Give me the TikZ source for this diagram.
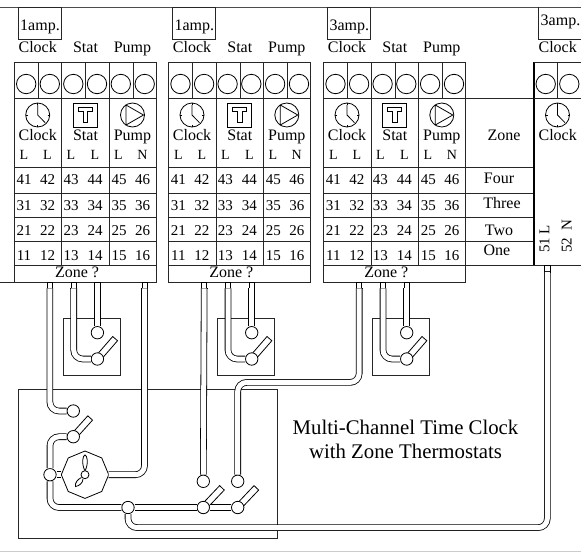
\documentclass[tikz,border=0pt]{standalone}
\usepackage{fontspec}
\setmainfont{Liberation Serif}
\usetikzlibrary{shapes.geometric}

\tikzset{
    panel/.style={line width=0.8pt, draw=black!85},
    lbl/.style={anchor=base, inner sep=0pt, font=\fontsize{16}{18}\selectfont},
    numlbl/.style={lbl, font=\fontsize{15}{18}\selectfont},
    smalllbl/.style={lbl, font=\fontsize{14}{18}\selectfont},
    screw/.style={circle, draw, line width=0.8pt, minimum size=19.4pt, inner sep=0pt},
    term/.style={circle, draw, fill=white, line width=0.8pt, minimum size=12.4pt, inner sep=0pt},
    blade/.style={rectangle, draw, fill=white, line width=0.8pt, anchor=west, minimum height=6.4pt, inner sep=0pt},
    stubbox/.style={rectangle, draw, fill=white, line width=0.8pt, minimum width=5.2pt, minimum height=6pt, inner sep=0pt},
    wire/.style={draw=black, line width=0.8pt, double=white, double distance=5pt, rounded corners=9pt},
    clockicon/.pic={
        \draw[line width=0.8pt] (0,0) circle (12pt);
        \foreach \ang in {0,90,180,270}
            \draw[line width=0.8pt] (\ang:10pt) -- (\ang:12pt);
        \draw[line width=0.8pt] (0,-10) -- (0,0) -- (7.5,7.7);
    },
    staticon/.pic={
        \draw[line width=0.8pt] (-12,-11.8) rectangle (12,12);
        \draw[line width=0.8pt] (-7,-7.7) -- (7,-7.7) -- (7,-3.3) -- (2.4,-3.3) -- (2.4,7.7)
            -- (-2.4,7.7) -- (-2.4,-3.3) -- (-7,-3.3) -- cycle;
    },
    pumpicon/.pic={
        \draw[line width=0.8pt] (0,0) circle (12pt);
        \draw[line width=0.8pt] (-6.5,-10) -- (11,0) -- (-6.5,10) -- cycle;
    },
}

% stub on the terminal strip, closed where the wire starts
\newcommand{\stubat}[2]{
    \node[stubbox] (#1) at (#2) {};
    \draw[line width=0.8pt] ([xshift=-3.4pt]#1.south) -- ([xshift=3.4pt]#1.south);
}

\begin{document}
\begin{tikzpicture}[x=1pt, y=-1pt]
    \useasboundingbox (0,0) rectangle (581,552);

    % Top and bottom edges
    \draw[line width=0.9pt, black!70] (0,7) -- (581,7);
    \draw[line width=0.9pt, black!20] (0,551.5) -- (581,551.5);
    \draw[panel] (0,282) -- (14,282);

    % Clock, Stat, Pump blocks
    \foreach \bx/\amp [count=\bn] in {14/1amp., 168.3/1amp., 323.3/3amp.} {
        \begin{scope}[shift={(\bx,0)}]
            % Fuse box
            \draw[panel] (4.5,7) rectangle (47.5,39.5);
            \node[lbl] (fuse\bn) at (26,30) {\amp};
            \node[lbl] (topclock\bn) at (23.7,52.3) {Clock};
            \node[lbl] (topstat\bn) at (71.5,52.3) {Stat};
            \node[lbl] (toppump\bn) at (118.5,52.3) {Pump};

            % Frame and rows
            \draw[panel] (0,62) rectangle (142.3,282);
            \foreach \ly in {98,167.5,193,217.5,241.3,265}
                \draw[panel] (0,\ly) -- (142.3,\ly);
            \foreach \lx in {47.7,95.3}
                \draw[panel] (\lx,62) -- (\lx,265);
            \foreach \lx in {24,71.7,119}
                \draw[panel] (\lx,62) -- (\lx,98);

            % Screws
            \foreach \sx [count=\sn] in {12.2,35.8,59.3,83,106.8,130.7}
                \node[screw] (screw\bn\sn) at (\sx,84) {};

            % Icons and names
            \pic at (23.7,115) {clockicon};
            \pic at (71.3,115) {staticon};
            \pic at (118.5,115) {pumpicon};
            \node[lbl] (clock\bn) at (23.7,140.7) {Clock};
            \node[lbl] (stat\bn) at (71.5,140.7) {Stat};
            \node[lbl] (pump\bn) at (118.5,140.7) {Pump};
            \foreach \sx/\txt [count=\sn] in {10/L,33.5/L,57/L,81/L,104.5/L,128.5/N}
                \node[smalllbl] (pole\bn\sn) at (\sx,159.3) {\txt};

            % Terminal numbers
            \foreach \ny/\tens in {184.7/4,210/3,235.3/2,260.3/1}
                \foreach \nx/\unit in {10/1,33.5/2,57/3,81/4,105/5,128.5/6}
                    \node[numlbl] (num\bn\tens\unit) at (\nx,\ny) {\tens\unit};
            \node[lbl] (zoneq\bn) at (63,277) {Zone ?};

            % Room thermostat
            \draw[panel] (49.3,318.3) rectangle (106.3,375);
            \node[blade, rotate=49, minimum width=26.6pt] (blade\bn) at (83.4,359) {};
            \node[term] (tsbot\bn) at (83.4,359) {};
            \node[term] (tstop\bn) at (83.4,332.7) {};
            \stubat{stuba\bn}{35.9,285}
            \stubat{stubb\bn}{59.7,285}
            \stubat{stubc\bn}{83.4,285}
            \draw[wire] (stubc\bn.south) -- (tstop\bn);
            \draw[wire] (stubb\bn.south) |- (tsbot\bn);
        \end{scope}
    }

    % Zone column
    \foreach \ly in {98,167.5,193,217.5,241.3}
        \draw[panel] (465.3,\ly) -- (534,\ly);
    \node[lbl] (zonehead) at (504,140.7) {Zone};
    \node[lbl] (zfour) at (499,183.3) {Four};
    \node[lbl] (zthree) at (502,208) {Three};
    \node[lbl] (ztwo) at (499,235) {Two};
    \node[lbl] (zone) at (497,255) {One};

    % Clock supply block
    \draw[panel] (538.3,7) -- (538.3,39.5) -- (581,39.5);
    \node[lbl] (fusefour) at (560.5,25) {3amp.};
    \node[lbl] (topclockfour) at (557.7,52.3) {Clock};
    \draw[line width=1.3pt] (534,62) -- (534,265);
    \draw[panel] (534,62) -- (581,62);
    \draw[panel] (534,98) -- (581,98);
    \draw[panel] (465.3,265) -- (581,265);
    \draw[panel] (557.3,62) -- (557.3,98);
    \node[screw] (screwfoura) at (545.7,84) {};
    \node[screw] (screwfourb) at (569.3,84) {};
    \pic at (557.5,115) {clockicon};
    \node[lbl] (clockfour) at (557.7,140.7) {Clock};
    \node[numlbl, rotate=90, anchor=base] (termlive) at (549.3,239) {51 L};
    \node[numlbl, rotate=90, anchor=base] (termneut) at (571.7,236) {52\ \ N};

    % Time clock enclosure
    \draw[panel] (18.3,389) rectangle (277,538.5);

    % Channel switch
    \node[term] (clkin) at (73.3,411) {};
    \node[blade, rotate=48, minimum width=24.8pt] (clkblade) at (73.3,436.7) {};
    \node[term] (clkcom) at (73.3,436.7) {};
    \node[term] (clklive) at (50,474.7) {};

    % Clock face
    \node[regular polygon, regular polygon sides=8, shape border rotate=22.5, draw, line width=0.8pt, minimum size=47.4pt, inner sep=0pt, outer sep=0pt] (clockface) at (85,474.7) {};
    \draw[line width=0.8pt] (85,471) .. controls (81,463) and (83,455) .. (85,455) .. controls (87,455) and (89,463) .. (85,471);
    \draw[line width=0.8pt] (81.5,477.5) .. controls (78,479) and (74.5,483) .. (75.5,486.5) .. controls (79,486) and (83,483) .. (83,479);
    \node[circle, draw, fill=white, line width=0.8pt, minimum size=8pt, inner sep=0pt] (clockhub) at (85,474.7) {};

    % Zone switches
    \node[term] (join) at (128,507.5) {};
    \node[blade, rotate=46.5, minimum width=26.7pt] (zoneblade) at (203.3,507.5) {};
    \node[blade, rotate=46.5, minimum width=26.7pt] (pumpblade) at (237.7,507.5) {};
    \node[term] (zonecom) at (203.3,507.5) {};
    \node[term] (pumpcom) at (237.7,507.5) {};
    \node[term] (zonein) at (203.3,481.3) {};
    \node[term] (pumpin) at (237.7,481.3) {};

    % Wiring
    \stubat{stubpump}{144.5,285}
    \stubat{stubneut}{547.3,268.5}
    \coordinate (lowcorner) at (547.3,527.6);
    \coordinate (hicorner) at (237.7,382.4);
    \draw[wire] (stuba1.south) |- (clkin);
    \draw[wire] (clkcom) -| (clklive);
    \draw[wire] (clklive) -- (clockface.west);
    \draw[wire] (stubpump.south) |- (clockface.east);
    \draw[wire] (clklive) |- (join);
    \draw[wire] (join) -- (zonecom);
    \draw[wire] (zonecom) -- (pumpcom);
    \draw[wire] (join) |- (lowcorner) -- (stubneut.south);
    \draw[wire] (stuba2.south) -- (zonein);
    \draw[wire] (pumpin) -- (hicorner) -| (stuba3.south);

    % Title
    \node[lbl, font=\fontsize{20.8}{24}\selectfont] (titlea) at (405.5,434.3) {Multi-Channel Time Clock};
    \node[lbl, font=\fontsize{20.8}{24}\selectfont] (titleb) at (405.5,458.3) {with Zone Thermostats};
\end{tikzpicture}
\end{document}
